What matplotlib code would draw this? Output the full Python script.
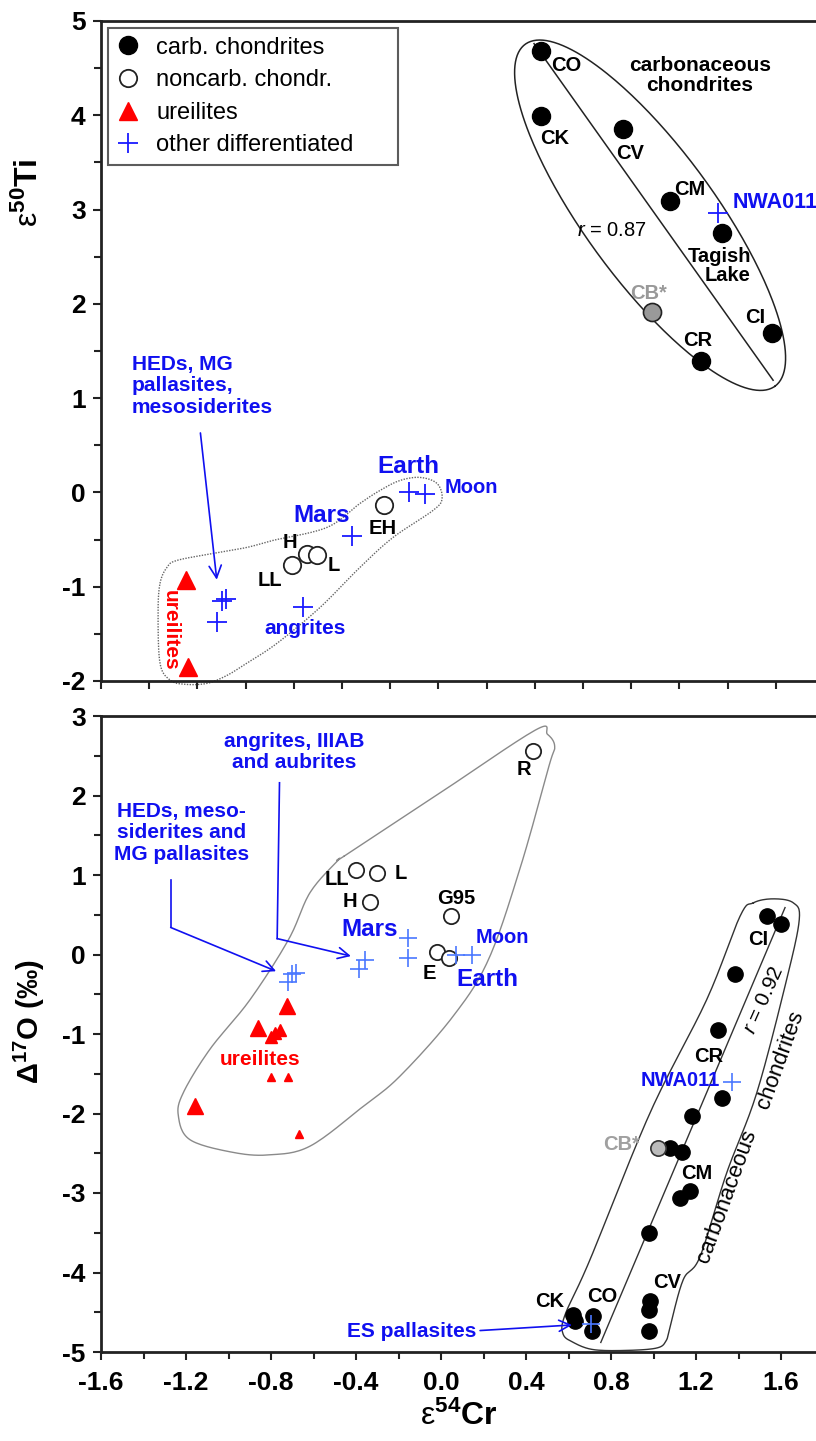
import numpy as np
import matplotlib.pyplot as plt
from matplotlib.ticker import MultipleLocator, FixedLocator
from matplotlib.lines import Line2D

plt.rcParams['font.family'] = 'Liberation Sans'
plt.rcParams['mathtext.fontset'] = 'custom'
plt.rcParams['mathtext.rm'] = 'Liberation Sans'
plt.rcParams['mathtext.it'] = 'Liberation Sans:italic'
plt.rcParams['mathtext.bf'] = 'Liberation Sans:bold'

# ---- upper panel: e50Ti vs e54Cr ----
cc_top_names = ['CO', 'CK', 'CV', 'CM', 'Tagish Lake', 'CR', 'CI']
cc_top_x = [0.68, 0.68, 1.11, 1.35, 1.62, 1.51, 1.88]
cc_top_y = [4.68, 3.99, 3.85, 3.09, 2.75, 1.39, 1.69]
cb_top_x = [1.26]
cb_top_y = [1.91]
nc_top_names = ['EH', 'H', 'L', 'LL']
nc_top_x = [-0.13, -0.53, -0.48, -0.61]
nc_top_y = [-0.13, -0.65, -0.66, -0.77]
# Earth, Moon, Mars, angrites, HEDs/MG pall./mesosid. (3), NWA011
diff_top_x = [0.0, 0.08, -0.30, -0.55, -0.97, -0.95, -1.00, 1.60]
diff_top_y = [0.0, -0.02, -0.46, -1.21, -1.15, -1.13, -1.375, 2.96]
ure_top_x = [-1.16, -1.15]
ure_top_y = [-0.93, -1.85]

# ---- lower panel: D17O vs e54Cr ----
cc_bot_x = [1.533, 1.599, 1.384, 1.302, 1.321, 1.183, 1.078, 1.136, 1.172, 1.125,
            0.979, 0.984, 0.98, 0.98, 0.717, 0.712, 0.623, 0.631]
cc_bot_y = [0.48, 0.38, -0.25, -0.95, -1.80, -2.03, -2.43, -2.49, -2.98, -3.06,
            -3.50, -4.36, -4.47, -4.74, -4.55, -4.74, -4.53, -4.61]
cb_bot_x = [1.023]
cb_bot_y = [-2.43]
nc_bot_names = ['R', 'LL', 'L', 'H', 'G95', 'E', '']
nc_bot_x = [0.434, -0.401, -0.301, -0.334, 0.047, -0.020, 0.036]
nc_bot_y = [2.566, 1.06, 1.02, 0.66, 0.49, 0.03, -0.04]
# Earth, Moon, Mars (2), angrites/IIIAB/aubrites (2), HEDs (3), NWA011, ES pallasites
diff_bot_x = [0.072, 0.148, -0.154, -0.154, -0.356, -0.384, -0.684, -0.70, -0.72, 1.368, 0.706]
diff_bot_y = [0.0, 0.0, 0.21, -0.04, -0.07, -0.18, -0.23, -0.25, -0.34, -1.61, -4.65]
ure_big_x = [-0.726, -0.86, -1.158]
ure_big_y = [-0.65, -0.92, -1.91]
ure_mid_x = [-0.758, -0.781, -0.801]
ure_mid_y = [-0.95, -0.99, -1.035]
ure_small_x = [-0.801, -0.719, -0.667]
ure_small_y = [-1.54, -1.54, -2.26]

# group outlines
top_field_x = [-1.294, -1.258, -1.206, -1.019, -0.843, -0.708, -0.428, -0.257, -0.153, -0.049,
               0.055, 0.143, 0.169, 0.122, -0.085, -0.257, -0.464, -0.687, -0.843, -0.946,
               -1.050, -1.164, -1.242, -1.294, -1.304]
top_field_y = [-0.965, -0.795, -0.721, -0.647, -0.583, -0.509, -0.371, -0.117, 0.021, 0.127,
               0.159, 0.095, -0.064, -0.191, -0.477, -0.795, -1.22, -1.60, -1.81, -1.94,
               -2.025, -2.035, -1.99, -1.81, -1.28]
bot_field_x = [-0.456, -0.028, 0.442, 0.501, 0.535, 0.508, 0.375, 0.224, 0.056, -0.193,
               -0.366, -0.616, -0.805, -0.977, -1.181, -1.236, -1.213, -1.087, -0.899,
               -0.717, -0.616, -0.482]
bot_field_y = [1.237, 1.99, 2.82, 2.77, 2.62, 2.37, 1.11, -0.06, -0.78, -1.53,
               -1.91, -2.41, -2.52, -2.49, -2.33, -2.03, -1.74, -1.19, -0.57,
               0.19, 0.78, 1.19]
carb_field_x = [1.470, 1.564, 1.658, 1.686, 1.627, 1.486, 1.344, 1.219, 1.140, 1.078, 1.059,
                1.015, 0.874, 0.717, 0.623, 0.574, 0.584, 0.701, 0.984, 1.250, 1.407]
carb_field_y = [0.65, 0.70, 0.65, 0.44, -0.31, -1.74, -2.75, -3.80, -4.09, -4.68, -4.86,
                -4.95, -4.98, -4.97, -4.88, -4.77, -4.53, -3.84, -1.99, -0.57, 0.48]

BLUE = '#1010f0'
LBLUE = '#4a78ff'
RED = '#ff0000'


def closed_curve(xs, ys, n=16):
    # Catmull-Rom spline through the outline vertices
    p = np.column_stack([xs, ys])
    m = len(p)
    t = np.linspace(0, 1, n, endpoint=False)[:, None]
    segs = []
    for i in range(m):
        p0, p1, p2, p3 = p[i - 1], p[i], p[(i + 1) % m], p[(i + 2) % m]
        segs.append(0.5 * (2 * p1 + (-p0 + p2) * t + (2 * p0 - 5 * p1 + 4 * p2 - p3) * t ** 2
                           + (-p0 + 3 * p1 - 3 * p2 + p3) * t ** 3))
    out = np.vstack(segs + [p[:1]])
    return out[:, 0], out[:, 1]


def style_axis(ax):
    for s in ['top', 'left', 'bottom']:
        ax.spines[s].set_linewidth(2)
        ax.spines[s].set_color('#222222')
    ax.spines['right'].set_visible(False)
    ax.tick_params(which='major', direction='out', length=6, width=1.5, labelsize=19,
                   pad=5, top=False, right=False, color='#222222')
    ax.tick_params(which='minor', direction='out', length=5, width=1.5, top=False,
                   right=False, color='#222222')
    for lab in ax.get_yticklabels() + ax.get_xticklabels():
        lab.set_fontweight('bold')


fig = plt.figure(figsize=(8.16, 14.41), dpi=100)
W = 715 / 816
ax1 = fig.add_axes([101 / 816, 1 - 681 / 1441, W, 660 / 1441])
ax2 = fig.add_axes([101 / 816, 1 - 1352 / 1441, W, 636 / 1441])

# ================= upper panel =================
ax1.set_xlim(-1.6, -1.6 + 715 / 192.8)
ax1.set_ylim(-2, 5)
ax1.xaxis.set_major_locator(FixedLocator(np.arange(-1.6, 2.2, 0.25)))
ax1.yaxis.set_minor_locator(MultipleLocator(0.5))
ax1.set_xticklabels([])
ax1.set_yticks(range(-2, 6))
ax1.set_yticklabels([str(v) for v in range(-2, 6)])
style_axis(ax1)

# carbonaceous chondrite ellipse and regression line
tt = np.linspace(0, 2 * np.pi, 300)
ex = 1.248 + 0.648 * np.cos(tt) + 0.272 * np.sin(tt)
ey = 2.94 - 1.813 * np.cos(tt) + 0.407 * np.sin(tt)
ax1.plot(ex, ey, color='#222222', lw=1.1, zorder=1)
ax1.plot([0.646, 1.886], [4.76, 1.19], color='#222222', lw=1.1, zorder=1)

fx, fy = closed_curve(top_field_x, top_field_y)
ax1.plot(fx, fy, color='#666666', lw=1.0, ls=(0, (1, 1)), zorder=1, clip_on=False)

ax1.plot(cc_top_x, cc_top_y, 'o', ms=13, mfc='black', mec='black', zorder=3)
ax1.plot(cb_top_x, cb_top_y, 'o', ms=13, mfc='#999999', mec='#222222', mew=1.2, zorder=3)
ax1.plot(nc_top_x, nc_top_y, 'o', ms=12.5, mfc='white', mec='#222222', mew=1.3, zorder=3)
ax1.plot(diff_top_x, diff_top_y, '+', ms=14, mew=1.3, color='#1a1aff', zorder=3)
ax1.plot(ure_top_x, ure_top_y, '^', ms=13, mfc=RED, mec=RED, zorder=3)

lab = dict(fontsize=14.5, fontweight='bold', ha='center', va='center')
top_label_pos = [(0.815, 4.53), (0.751, 3.75), (1.144, 3.59), (1.455, 3.21),
                 None, (1.493, 1.61), (1.792, 1.86)]
for name, pos in zip(cc_top_names, top_label_pos):
    if pos is not None:
        ax1.text(pos[0], pos[1], name, **lab)
ax1.text(1.771, 2.40, 'Tagish\nLake', fontsize=14.5, fontweight='bold', ha='right',
         va='center', multialignment='right', linespacing=1.0)
ax1.text(1.239, 2.11, 'CB*', color='#999999', **lab)
ax1.text(1.678, 3.08, 'NWA011', color=BLUE, fontsize=15.5, fontweight='bold',
         ha='left', va='center')
ax1.text(1.049, 2.78, r'$\it{r}$ = 0.87', fontsize=14.5, ha='center', va='center')
ax1.text(1.507, 4.42, 'carbonaceous\nchondrites', fontsize=15, fontweight='bold',
         ha='center', va='center', linespacing=1.1)

for name, pos in zip(nc_top_names, [(-0.137, -0.38), (-0.62, -0.53), (-0.392, -0.77),
                                    (-0.723, -0.93)]):
    ax1.text(pos[0], pos[1], name, **lab)

ax1.text(-0.455, -0.24, 'Mars', color=BLUE, fontsize=17.5, fontweight='bold',
         ha='center', va='center')
ax1.text(-0.008, 0.28, 'Earth', color=BLUE, fontsize=17.5, fontweight='bold',
         ha='center', va='center')
ax1.text(0.323, 0.05, 'Moon', color=BLUE, fontsize=14.5, fontweight='bold',
         ha='center', va='center')
ax1.text(-0.542, -1.44, 'angrites', color=BLUE, fontsize=15, fontweight='bold',
         ha='center', va='center')
ax1.text(-1.242, -1.46, 'ureilites', color=RED, fontsize=15, fontweight='bold',
         ha='center', va='center', rotation=-90)
ax1.text(-1.439, 1.13, 'HEDs, MG\npallasites,\nmesosiderites', color=BLUE, fontsize=15,
         fontweight='bold', ha='left', va='center', linespacing=1.15)
ax1.annotate('', xy=(-0.998, -0.955), xytext=(-1.086, 0.66),
             arrowprops=dict(arrowstyle='->', color=BLUE, lw=1.2, mutation_scale=22))

handles = [
    Line2D([], [], ls='none', marker='o', ms=13, mfc='black', mec='black'),
    Line2D([], [], ls='none', marker='o', ms=12.5, mfc='white', mec='#222222', mew=1.3),
    Line2D([], [], ls='none', marker='^', ms=13, mfc=RED, mec=RED),
    Line2D([], [], ls='none', marker='+', ms=14, mew=1.3, color='#1a1aff'),
]
leg = ax1.legend(handles, ['carb. chondrites', 'noncarb. chondr.', 'ureilites',
                           'other differentiated'],
                 loc='upper left', bbox_to_anchor=(0.0098, 0, 0.406, 0.989), mode='expand',
                 borderaxespad=0, fontsize=17, frameon=True, fancybox=False,
                 handlelength=1.0, handletextpad=0.7, labelspacing=0.45, borderpad=0.35)
leg.get_frame().set_edgecolor('#333333')
leg.get_frame().set_linewidth(1.5)

ax1.set_ylabel(r'$\mathrm{ε}^{\mathbf{50}}\mathbf{Ti}$', fontsize=23, va='center')
ax1.yaxis.set_label_coords(-0.1, 0.74)

# ================= lower panel =================
ax2.set_xlim(-1.6, -1.6 + 715 / 212.5)
ax2.set_ylim(-5, 3)
xt = np.round(np.arange(-1.6, 1.7, 0.4), 1)
ax2.set_xticks(xt)
ax2.set_xticklabels([f'{v + 0.0:.1f}' for v in xt])
ax2.xaxis.set_minor_locator(MultipleLocator(0.2))
ax2.set_yticks(range(-5, 4))
ax2.set_yticklabels([str(v) for v in range(-5, 4)])
ax2.yaxis.set_minor_locator(MultipleLocator(0.5))
style_axis(ax2)
ax2.tick_params(axis='x', which='major', pad=8)

bx, by = closed_curve(bot_field_x, bot_field_y)
ax2.plot(bx, by, color='#8a8a8a', lw=1.0, zorder=1, clip_on=False)
cx, cy = closed_curve(carb_field_x, carb_field_y)
ax2.plot(cx, cy, color='#333333', lw=1.0, zorder=1, clip_on=False)
ax2.plot([1.619, 0.752], [0.59, -4.88], color='#333333', lw=1.0, zorder=1)

ax2.plot(cc_bot_x, cc_bot_y, 'o', ms=11, mfc='black', mec='black', zorder=3)
ax2.plot(cb_bot_x, cb_bot_y, 'o', ms=11, mfc='#bbbbbb', mec='#333333', mew=1.2, zorder=4)
ax2.plot(nc_bot_x, nc_bot_y, 'o', ms=11, mfc='white', mec='#222222', mew=1.3, zorder=3)
ax2.plot(diff_bot_x, diff_bot_y, '+', ms=13, mew=1.2, color=LBLUE, zorder=5)
ax2.plot(ure_big_x, ure_big_y, '^', ms=12, mfc=RED, mec=RED, zorder=3)
ax2.plot(ure_mid_x, ure_mid_y, '^', ms=8, mfc=RED, mec=RED, zorder=3)
ax2.plot(ure_small_x, ure_small_y, '^', ms=6, mfc=RED, mec=RED, zorder=3)

for name, pos in zip(nc_bot_names, [(0.392, 2.33), (-0.490, 0.94), (-0.188, 1.02),
                                    (-0.428, 0.67), (0.072, 0.71), (-0.054, -0.24),
                                    None]):
    if pos is not None:
        ax2.text(pos[0], pos[1], name, **lab)

for name, pos in [('CI', (1.493, 0.19)), ('CR', (1.258, -1.28)), ('CM', (1.203, -2.75)),
                  ('CV', (1.062, -4.13)), ('CO', (0.761, -4.30)), ('CK', (0.513, -4.37))]:
    ax2.text(pos[0], pos[1], name, **lab)
ax2.text(0.936, -2.39, 'CB*', color='#a0a0a0', fontsize=14.5, fontweight='bold',
         ha='right', va='center')
ax2.text(1.313, -1.59, 'NWA011', color=BLUE, fontsize=14.5, fontweight='bold',
         ha='right', va='center')
ax2.text(1.517, -0.57, r'$\it{r}$ = 0.92', fontsize=15, ha='center', va='center',
         rotation=66)
ax2.text(1.595, -1.32, 'chondrites', fontsize=16, ha='center', va='center', rotation=70)
ax2.text(1.344, -3.04, 'carbonaceous', fontsize=16, ha='center', va='center', rotation=70)

ax2.text(-0.334, 0.32, 'Mars', color=BLUE, fontsize=17.5, fontweight='bold',
         ha='center', va='center')
ax2.text(0.216, -0.31, 'Earth', color=BLUE, fontsize=17.5, fontweight='bold',
         ha='center', va='center')
ax2.text(0.291, 0.22, 'Moon', color=BLUE, fontsize=14.5, fontweight='bold',
         ha='center', va='center')
ax2.text(-0.852, -1.32, 'ureilites', color=RED, fontsize=15, fontweight='bold',
         ha='center', va='center')
ax2.text(-0.692, 2.55, 'angrites, IIIAB\nand aubrites', color=BLUE, fontsize=15,
         fontweight='bold', ha='center', va='center', linespacing=1.15)
ax2.text(-1.222, 1.53, 'HEDs, meso-\nsiderites and\nMG pallasites', color=BLUE,
         fontsize=15, fontweight='bold', ha='center', va='center', linespacing=1.15)
ax2.text(-0.136, -4.74, 'ES pallasites', color=BLUE, fontsize=15, fontweight='bold',
         ha='center', va='center')

# bent leader arrows
ax2.plot([-0.76, -0.771], [2.16, 0.20], color=BLUE, lw=1.2)
ax2.annotate('', xy=(-0.424, -0.02), xytext=(-0.771, 0.20),
             arrowprops=dict(arrowstyle='->', color=BLUE, lw=1.2, mutation_scale=20,
                             shrinkA=0, shrinkB=0))
ax2.plot([-1.272, -1.272], [0.94, 0.34], color=BLUE, lw=1.2)
ax2.annotate('', xy=(-0.776, -0.21), xytext=(-1.272, 0.34),
             arrowprops=dict(arrowstyle='->', color=BLUE, lw=1.2, mutation_scale=20,
                             shrinkA=0, shrinkB=0))
ax2.annotate('', xy=(0.616, -4.66), xytext=(0.184, -4.73),
             arrowprops=dict(arrowstyle='->', color=BLUE, lw=1.2, mutation_scale=20,
                             shrinkA=0, shrinkB=0))

ax2.set_ylabel(r'$\mathbf{Δ^{17}O\ (‰)}$', fontsize=21, va='center')
ax2.yaxis.set_label_coords(-0.1, 0.52)
ax2.set_xlabel(r'$\mathrm{ε}^{\mathbf{54}}\mathbf{Cr}$', fontsize=23)

fig.savefig('out.png', dpi=100)
